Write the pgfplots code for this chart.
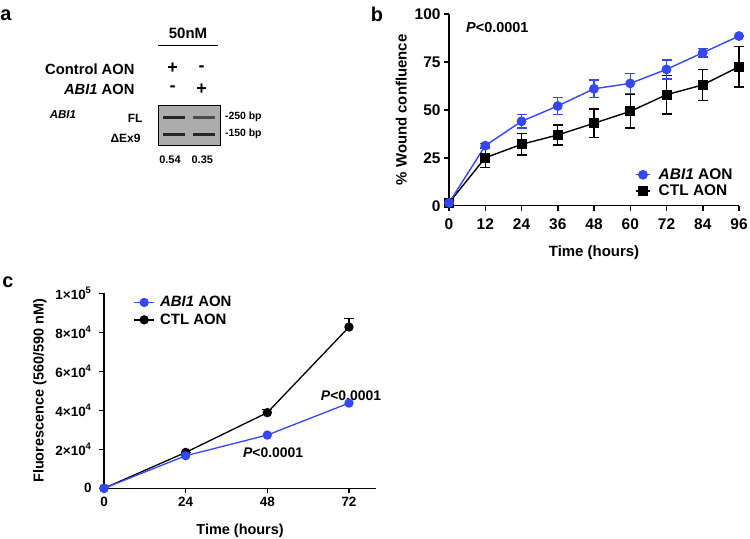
\documentclass[border=0pt]{standalone}
\usepackage{fontspec}
\setmainfont{Liberation Sans}
\usepackage{pgfplots}
\pgfplotsset{compat=1.18}
\definecolor{aonblue}{RGB}{52,72,250}
\definecolor{gelgray}{RGB}{172,172,172}
\newcommand{\fs}[1]{\fontsize{#1}{#1}\selectfont\bfseries}
\begin{document}
\begin{tikzpicture}[x=1bp,y=1bp]
\useasboundingbox (0,0) rectangle (750,539);
% ---------- panel a ----------
\node[font=\fs{20}] at (6,524) {a};
\node[font=\fs{15}] at (188,506) {50nM};
\draw[line width=1.5bp] (158,493.3) -- (218,493.3);
\node[font=\fs{14.8},anchor=east] at (138,470) {Control AON};
\node[font=\fs{14.8},anchor=east] at (138,449.7) {\textit{ABI1} AON};
\node[font=\fs{18}] at (172.7,470.5) {+};
\node[font=\fs{18}] at (201.7,470.5) {-};
\node[font=\fs{18}] at (172.7,450.2) {-};
\node[font=\fs{18}] at (201.7,450.2) {+};
\draw[fill=gelgray,line width=1bp] (158.3,393.7) rectangle (220.7,433);
\fill[black!85] (163,419.6) rectangle (185,423);
\fill[black!70] (193,420.1) rectangle (215,422.5);
\fill[black!85] (163,403) rectangle (185,406.4);
\fill[black!85] (193,403) rectangle (215,406.4);
\node[font=\fs{11.5}] at (63,424) {\textit{ABI1}};
\node[font=\fs{12},anchor=east] at (146,420.7) {FL};
\node[font=\fs{12},anchor=east] at (144,400.7) {ΔEx9};
\node[font=\fs{10.5},anchor=west] at (221.5,421.7) {-250 bp};
\node[font=\fs{10.5},anchor=west] at (221.5,405) {-150 bp};
\node[font=\fs{11}] at (170,379.7) {0.54};
\node[font=\fs{11}] at (202.3,379.7) {0.35};
% ---------- panel b ----------
\node[font=\fs{20}] at (377,525) {b};
\begin{axis}[
  at={(449bp,333.3bp)}, anchor=south west,
  scale only axis, width=290bp, height=191.7bp,
  xmin=0, xmax=96, ymin=0, ymax=100,
  axis lines=left, axis line style={-, line width=1.5bp},
  tick align=outside, major tick length=5bp,
  every tick/.style={line width=1.5bp, black},
  xtick={0,12,...,96}, ytick={0,25,50,75,100},
  /pgf/number format/assume math mode=true,
  tick label style={font=\fs{15.5}},
  xticklabel style={yshift=-5bp},
  xlabel={Time (hours)}, ylabel={\% Wound confluence},
  label style={font=\fs{15}},
  xlabel style={yshift=-9bp},
  ylabel style={yshift=1bp},
  clip=false,
  legend style={draw=none, fill=none, at={(0.632,0.215)}, anchor=north west,
    font=\fs{15.5}, row sep=0bp},
  legend cell align=left,
  reverse legend,
  legend image code/.code={\draw[mark repeat=2,mark phase=2] plot coordinates {(0cm,0cm)(0.24cm,0cm)(0.48cm,0cm)};\path (0.7cm,0);},
  error bars/error bar style={line width=1.4bp},
  error bars/error mark options={rotate=90, mark size=5bp, line width=1.4bp},
]
\addplot[black, line width=1.4bp, mark=square*, mark size=4.3bp,
  error bars/.cd, y dir=both, y explicit] coordinates {
  (0,1.5) +- (0,0)
  (12,25) +- (0,5)
  (24,32) +- (0,5.5)
  (36,36.9) +- (0,5.2)
  (48,43) +- (0,7.4)
  (60,49.2) +- (0,8.7)
  (72,57.9) +- (0,10)
  (84,63) +- (0,8)
  (96,72.5) +- (0,10.6)
};
\addlegendentry{CTL AON}
\addplot[aonblue, line width=1.4bp, mark=*, mark size=4.2bp,
  error bars/.cd, y dir=both, y explicit] coordinates {
  (0,1.5) +- (0,0)
  (12,31.3) +- (0,1.2)
  (24,44) +- (0,3.5)
  (36,52) +- (0,4.3)
  (48,61) +- (0,4.5)
  (60,63.8) +- (0,5.2)
  (72,71.1) +- (0,5)
  (84,79.8) +- (0,2.3)
  (96,88.5) +- (0,0)
};
\addlegendentry{\textit{ABI1} AON}
\node[font=\fs{14.5}] at (axis cs:16,92.7) {\textit{P}<0.0001};
\end{axis}
% ---------- panel c ----------
\node[font=\fs{20}] at (8,257) {c};
\begin{axis}[
  at={(104bp,50.7bp)}, anchor=south west,
  scale only axis, width=272.2bp, height=195bp,
  xmin=0, xmax=80, ymin=0, ymax=100000,
  axis lines=left, axis line style={-, line width=1.3bp},
  tick align=outside, major tick length=5bp,
  every tick/.style={line width=1.3bp, black},
  xtick={0,24,48,72},
  ytick={0,20000,40000,60000,80000,100000},
  yticklabels={0, 2×10\textsuperscript{4}, 4×10\textsuperscript{4}, 6×10\textsuperscript{4}, 8×10\textsuperscript{4}, 1×10\textsuperscript{5}},
  scaled y ticks=false,
  /pgf/number format/assume math mode=true,
  tick label style={font=\fs{13.5}},
  yticklabel style={xshift=-4bp},
  xlabel={Time (hours)}, ylabel={Fluorescence (560/590 nM)},
  label style={font=\fs{14.5}},
  xlabel style={yshift=-11bp},
  ylabel style={yshift=2bp},
  clip=false,
  legend style={draw=none, fill=none, at={(0.097,1.005)}, anchor=north west,
    font=\fs{15}, row sep=1.5bp},
  legend cell align=left,
  reverse legend,
  legend image code/.code={\draw[mark repeat=2,mark phase=2] plot coordinates {(0cm,0cm)(0.35cm,0cm)(0.7cm,0cm)};\path (0.82cm,0);},
  error bars/error bar style={line width=1.3bp},
  error bars/error mark options={rotate=90, mark size=5bp, line width=1.3bp},
]
\addplot[black, line width=1.3bp, mark=*, mark size=4bp,
  error bars/.cd, y dir=plus, y explicit] coordinates {
  (0,0) +- (0,0)
  (24,18400) +- (0,0)
  (48,38800) +- (0,1700)
  (72,82700) +- (0,4500)
};
\addlegendentry{CTL AON}
\addplot[aonblue, line width=1.3bp, mark=*, mark size=4bp] coordinates {
  (0,0) (24,16700) (48,27300) (72,43700)
};
\addlegendentry{\textit{ABI1} AON}
\node[font=\fs{14}] at (axis cs:72.6,47300) {\textit{P}<0.0001};
\node[font=\fs{14}] at (axis cs:49.7,18100) {\textit{P}<0.0001};
\end{axis}
\end{tikzpicture}
\end{document}
